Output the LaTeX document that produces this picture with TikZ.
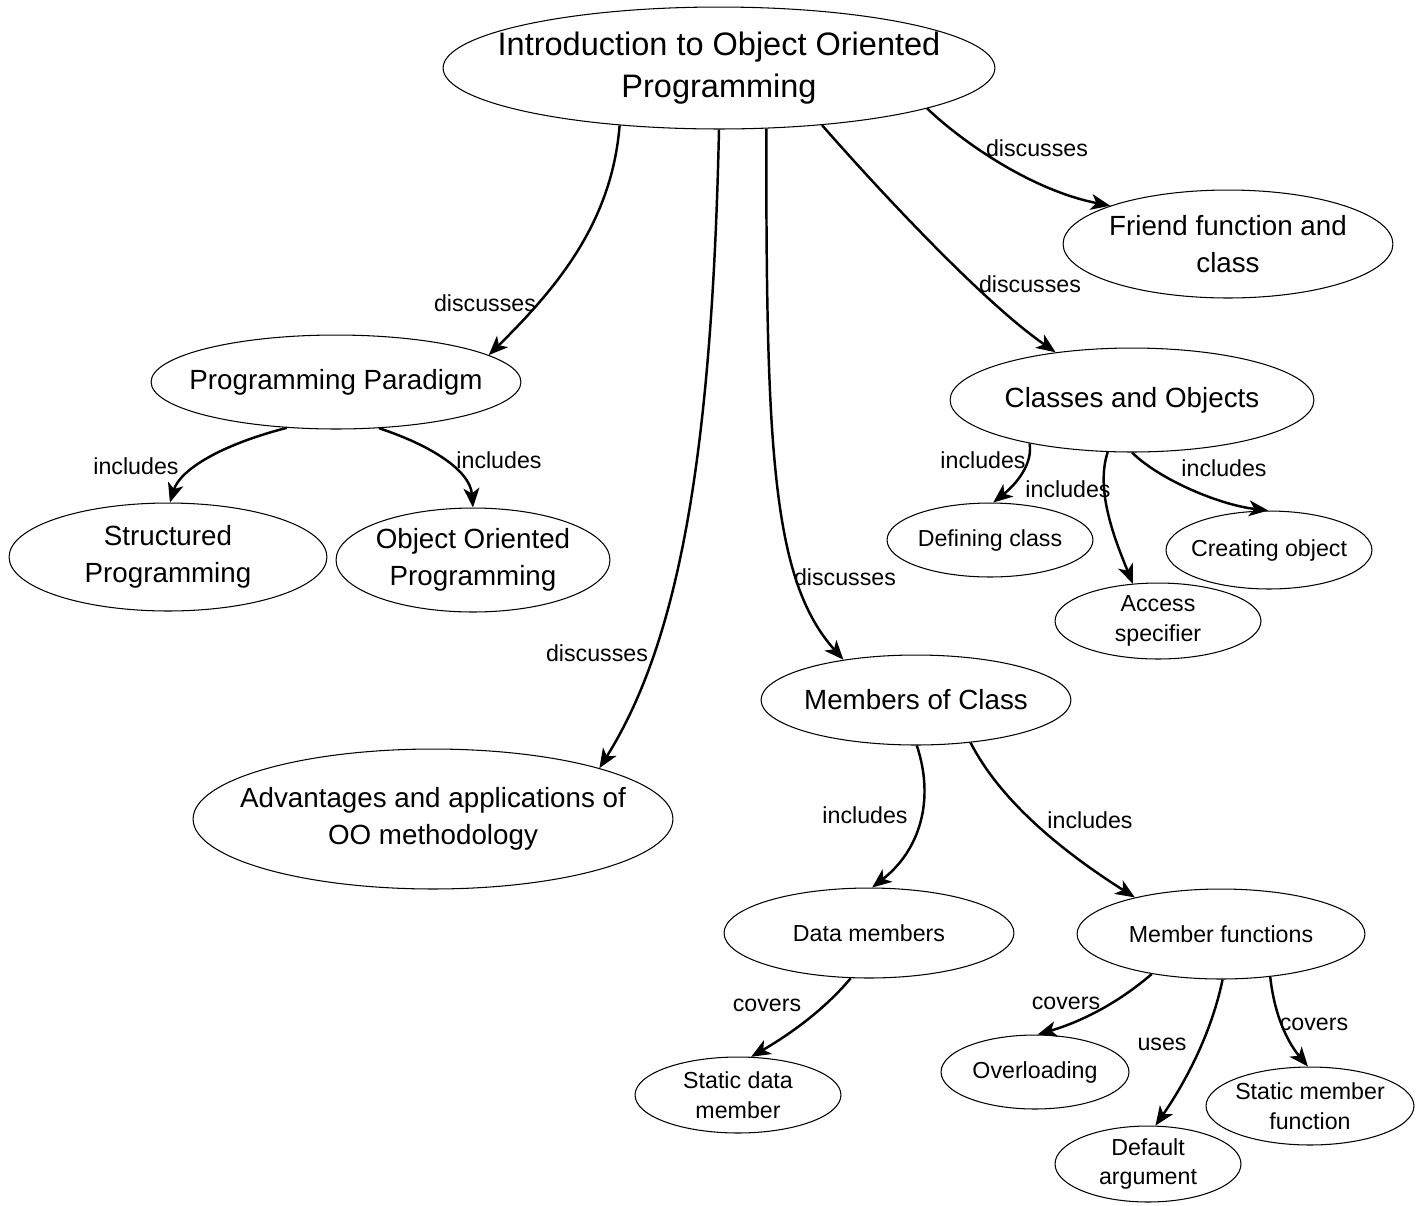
\documentclass[tikz,border=0pt]{standalone}
\usepackage{fontspec}
\setmainfont{Liberation Sans}
\usetikzlibrary{shapes.geometric,arrows.meta}

\tikzset{
  concept/.style={ellipse, draw, line width=0.6pt, inner sep=0pt, fill=white},
  esize/.style 2 args={minimum width=#1*0.04cm, minimum height=#2*0.04cm},
  bigtxt/.style={font=\fontsize{18.5}{23.8}\selectfont, align=center, inner sep=0pt},
  midtxt/.style={font=\fontsize{15.8}{21}\selectfont, align=center, inner sep=0pt},
  smalltxt/.style={font=\fontsize{13.2}{17}\selectfont, align=center, inner sep=0pt},
  rel/.style={line width=1.4pt, -{Stealth[length=11pt,width=9pt,inset=3pt]}},
  lbl/.style={font=\fontsize{13.2}{17}\selectfont, inner sep=0pt},
}

\begin{document}
\begin{tikzpicture}[x=0.02cm, y=-0.02cm]
  \useasboundingbox (0,0) rectangle (1421,1205);

  % concepts
  \node[concept, esize={276}{61}, label={[bigtxt,name=introt]center:{Introduction to Object Oriented\\Programming}}] (intro) at (719,68) {};
  \node[concept, esize={165}{54}, label={[midtxt,name=friendt]center:{Friend function and\\class}}] (friend) at (1228,244) {};
  \node[concept, esize={185}{47}, label={[midtxt,name=ppt]center:{Programming Paradigm}}] (pp) at (336,382) {};
  \node[concept, esize={182}{52}, label={[midtxt,name=cot]center:{Classes and Objects}}] (co) at (1132,400) {};
  \node[concept, esize={159}{54}, label={[midtxt,name=spt]center:{Structured\\Programming}}] (sp) at (168,557) {};
  \node[concept, esize={137}{52}, label={[midtxt,name=oopt]center:{Object Oriented\\Programming}}] (oop) at (473,560) {};
  \node[concept, esize={103}{37}, label={[smalltxt,name=dct]center:{Defining class}}] (dc) at (990,540) {};
  \node[concept, esize={103}{39}, label={[smalltxt,name=crt]center:{Creating object}}] (cr) at (1269,550) {};
  \node[concept, esize={103}{38}, label={[smalltxt,name=ast]center:{Access\\specifier}}] (as) at (1158,621) {};
  \node[concept, esize={155}{45}, label={[midtxt,name=moct]center:{Members of Class}}] (moc) at (916,700) {};
  \node[concept, esize={240}{70}, label={[midtxt,name=advt]center:{Advantages and applications of\\OO methodology}}] (adv) at (433,819) {};
  \node[concept, esize={145}{45}, label={[smalltxt,name=dmt]center:{Data members}}] (dm) at (869,933) {};
  \node[concept, esize={144}{45}, label={[smalltxt,name=mft]center:{Member functions}}] (mf) at (1221,934) {};
  \node[concept, esize={103}{38}, label={[smalltxt,name=sdmt]center:{Static data\\member}}] (sdm) at (738,1095) {};
  \node[concept, esize={94}{37}, label={[smalltxt,name=ovt]center:{Overloading}}] (ov) at (1035,1072) {};
  \node[concept, esize={104}{39}, label={[smalltxt,name=smft]center:{Static member\\function}}] (smf) at (1310,1106) {};
  \node[concept, esize={93}{38}, label={[smalltxt,name=dat]center:{Default\\argument}}] (da) at (1148,1164) {};

  % relations
  \draw[rel] (intro.-150.7) .. controls (612,220) and (560,285) .. (pp.10.7);
  \draw[rel] (intro.-90) .. controls (712,450) and (680,640) .. (adv.17.3);
  \draw[rel] (intro.-52.5) .. controls (766,450) and (772,580) .. (moc.151.3);
  \draw[rel] (intro.-29.2) .. controls (870,180) and (980,300) .. (co.148.5);
  \draw[rel] (intro.-11.9) .. controls (960,140) and (1030,190) .. (friend.162.6);

  \draw[rel] (pp.-137) .. controls (220,445) and (180,470) .. (sp.88);
  \draw[rel] (pp.-47.4) .. controls (430,445) and (470,470) .. (oop.90);

  \draw[rel] (co.-157.7) .. controls (1033,465) and (1015,485) .. (dc.85.5);
  \draw[rel] (co.-115.3) .. controls (1095,490) and (1115,540) .. (as.124.8);
  \draw[rel] (co.-90) .. controls (1160,480) and (1220,505) .. (cr.91.7);

  \draw[rel] (moc.-89) .. controls (935,800) and (920,850) .. (dm.86.3);
  \draw[rel] (moc.-38.8) .. controls (1000,800) and (1060,850) .. (mf.157.9);

  \draw[rel] (dm.-112.4) .. controls (820,1015) and (780,1040) .. (sdm.71);
  \draw[rel] (mf.-150.7) .. controls (1110,1010) and (1070,1025) .. (ov.86.4);
  \draw[rel] (mf.-88.8) .. controls (1210,1040) and (1180,1090) .. (da.79.3);
  \draw[rel] (mf.-41.9) .. controls (1275,1020) and (1290,1045) .. (smf.93);

  % relation labels
  \node[lbl] (l1) at (485,303) {discusses};
  \node[lbl] (l2) at (1037,148) {discusses};
  \node[lbl] (l3) at (1030,284) {discusses};
  \node[lbl] (l4) at (845,577) {discusses};
  \node[lbl] (l5) at (597,653) {discusses};
  \node[lbl] (l6) at (136,466) {includes};
  \node[lbl] (l7) at (499,460) {includes};
  \node[lbl] (l8) at (983,460) {includes};
  \node[lbl] (l9) at (1068,489) {includes};
  \node[lbl] (l10) at (1224,468) {includes};
  \node[lbl] (l11) at (865,815) {includes};
  \node[lbl] (l12) at (1090,820) {includes};
  \node[lbl] (l13) at (767,1005) {covers};
  \node[lbl] (l14) at (1066,1003) {covers};
  \node[lbl] (l15) at (1162,1044) {uses};
  \node[lbl] (l16) at (1314,1024) {covers};
\end{tikzpicture}
\end{document}
